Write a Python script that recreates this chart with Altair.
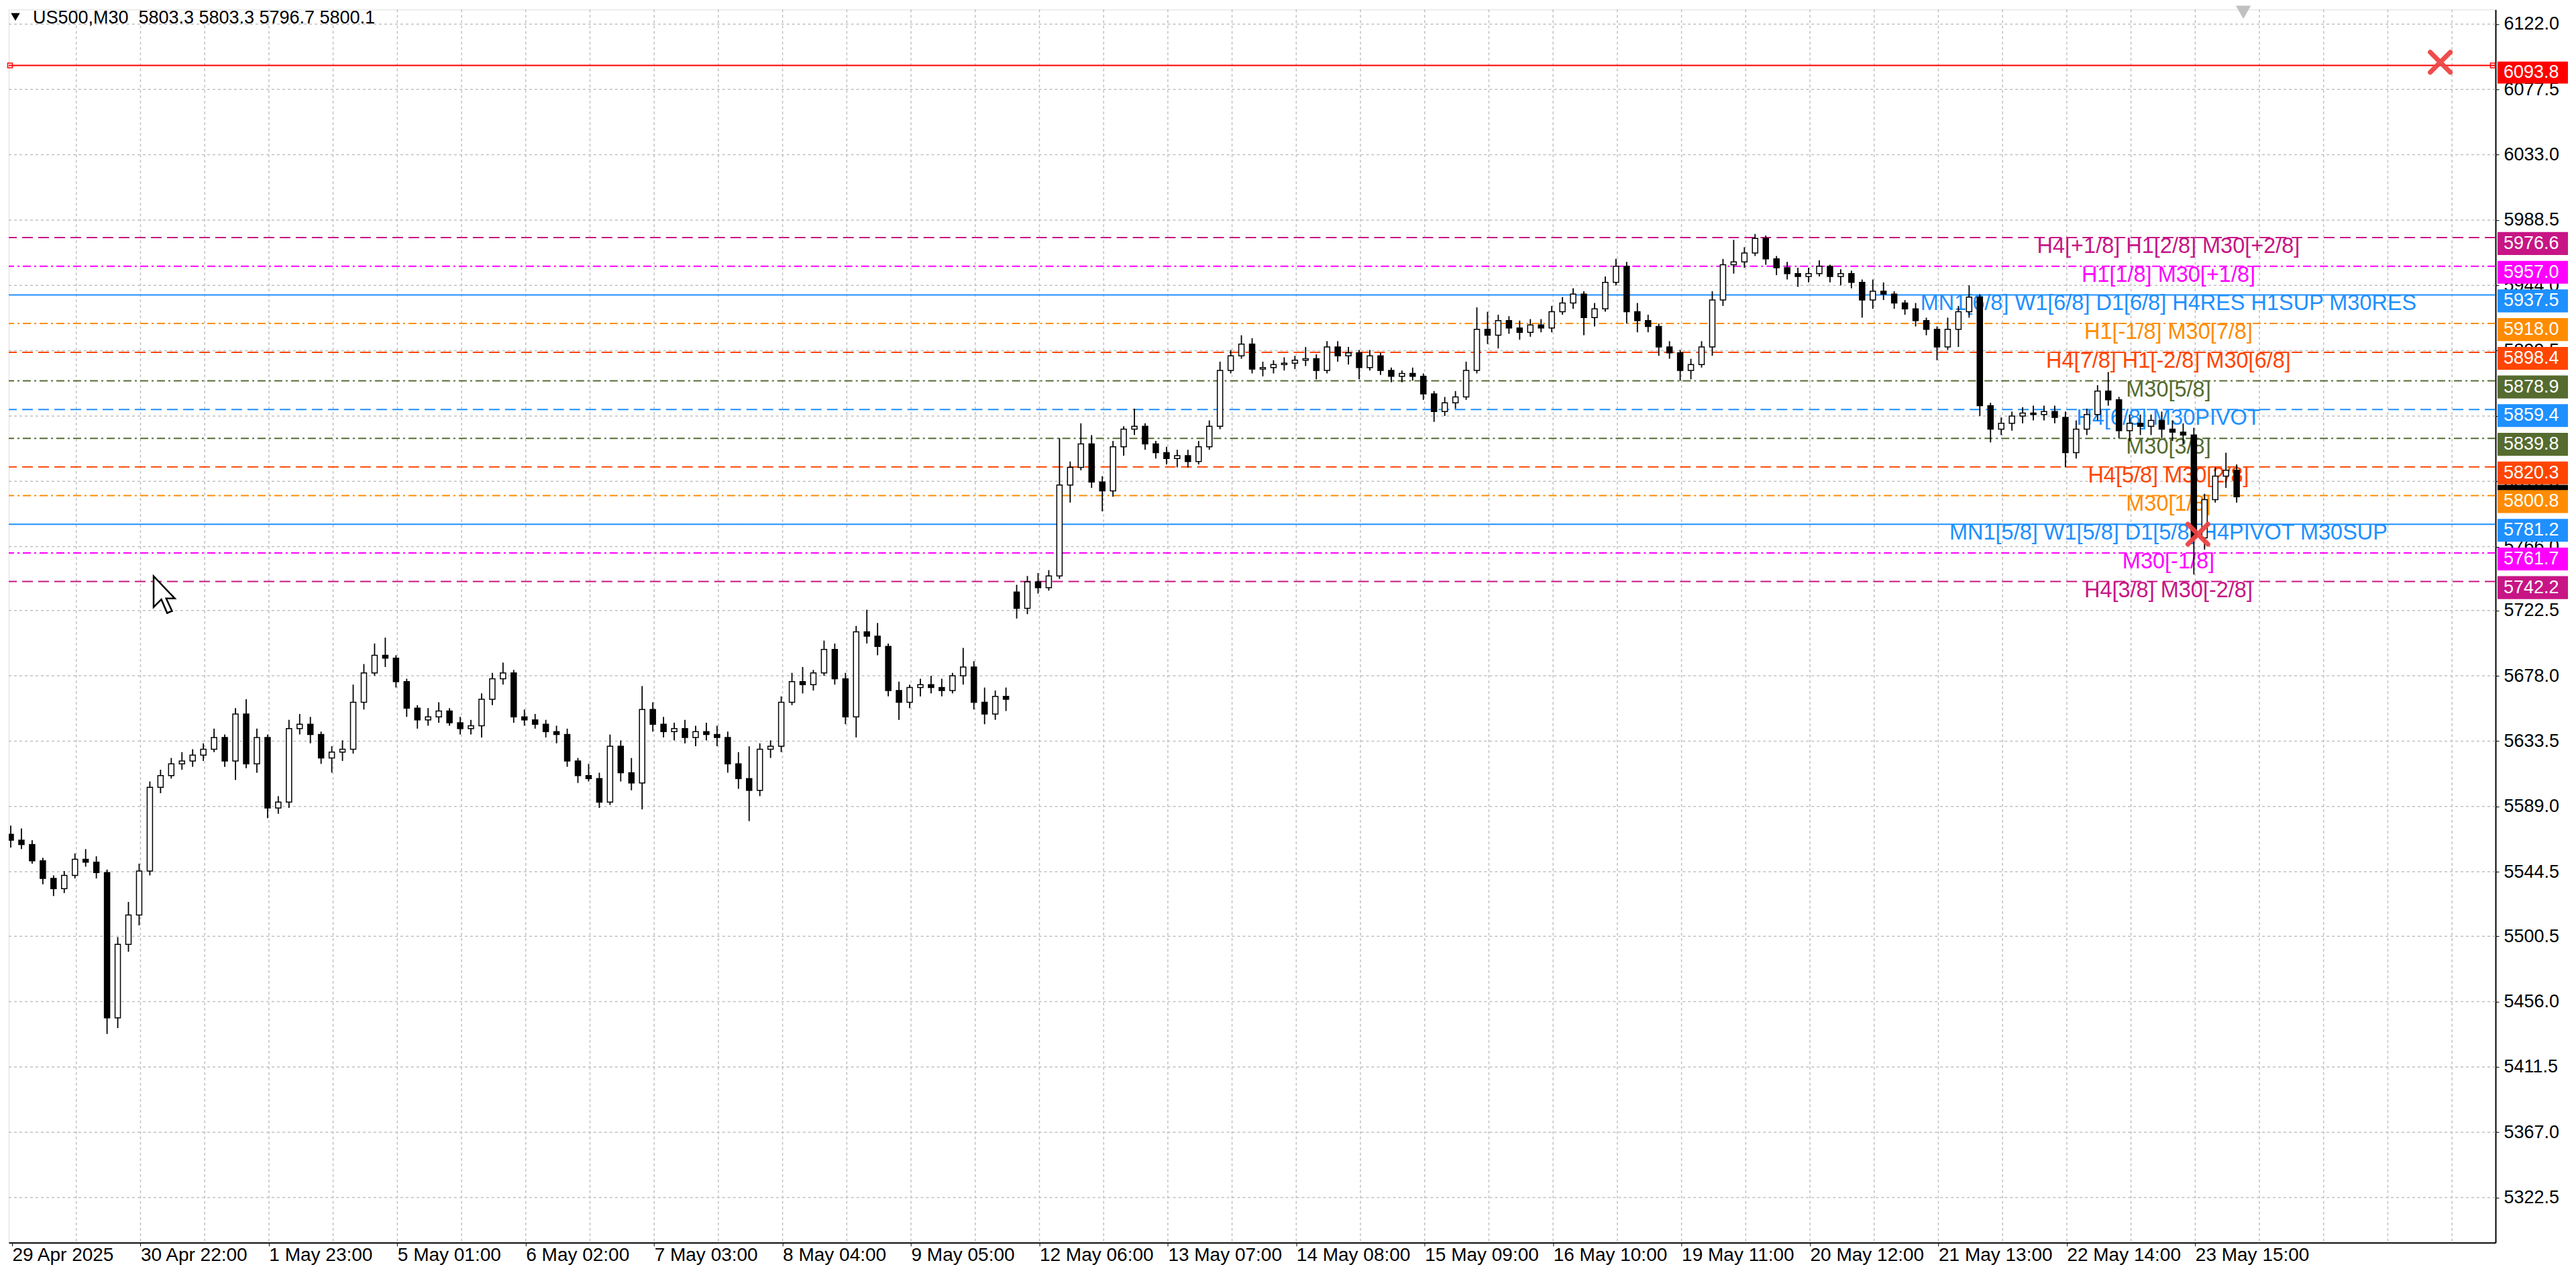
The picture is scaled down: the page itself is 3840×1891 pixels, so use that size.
import altair as alt
import pandas as pd

# ---------------- candle data (4-bar M30 groups) ----------------
O = [5570,5566,5563,5552,5540,5533,5542,5553,5551,5544,5445,5495,5515,5545,5602,5610,5618,5620,5624,5628,
     5636,5620,5652,5618,5636,5588,5592,5642,5645,5638,5622,5626,5628,5660,5680,5692,5690,5674,5656,5648,
     5650,5654,5646,5642,5644,5662,5676,5680,5650,5648,5645,5640,5638,5620,5610,5608,5592,5630,5612,5605,
     5655,5645,5640,5642,5636,5640,5638,5636,5618,5608,5600,5628,5630,5660,5674,5672,5680,5696,5676,5650,
     5708,5705,5698,5668,5660,5670,5672,5670,5668,5678,5684,5660,5652,5664,5735,5724,5742,5738,5746,5808,
     5820,5836,5810,5804,5834,5846,5848,5836,5830,5826,5828,5824,5834,5848,5886,5896,5904,5887,5888,5890,
     5891,5893,5894,5886,5902,5896,5898,5888,5896,5886,5882,5884,5882,5870,5858,5864,5868,5886,5914,5910,
     5920,5915,5912,5917,5915,5926,5932,5938,5922,5928,5946,5957,5926,5920,5916,5902,5898,5886,5890,5902,
     5934,5958,5960,5966,5976,5962,5956,5952,5950,5952,5957,5950,5952,5946,5934,5940,5938,5932,5928,5920,
     5914,5902,5914,5926,5936,5862,5846,5850,5855,5857,5856,5858,5854,5830,5846,5856,5872,5866,5845,5850,
     5848,5852,5846,5844,5842,5772,5798,5814,5818]
H = [5576,5574,5566,5554,5542,5545,5557,5560,5555,5546,5500,5524,5550,5606,5614,5622,5626,5628,5632,5642,
     5638,5656,5662,5642,5638,5596,5648,5652,5650,5640,5630,5634,5672,5686,5700,5704,5692,5676,5658,5656,
     5660,5656,5650,5648,5666,5680,5687,5682,5655,5652,5648,5644,5642,5622,5618,5612,5638,5634,5622,5671,
     5660,5650,5646,5648,5644,5646,5644,5640,5626,5630,5632,5634,5664,5680,5684,5682,5702,5700,5680,5712,
     5723,5714,5700,5674,5672,5676,5678,5676,5680,5697,5688,5670,5668,5670,5740,5746,5748,5750,5840,5824,
     5850,5842,5814,5838,5848,5860,5850,5838,5834,5832,5832,5838,5852,5892,5900,5910,5908,5892,5893,5895,
     5896,5902,5897,5906,5906,5902,5900,5900,5898,5888,5886,5888,5884,5872,5868,5872,5892,5929,5926,5924,
     5923,5920,5921,5921,5930,5936,5942,5940,5932,5950,5962,5960,5932,5924,5918,5906,5900,5894,5906,5940,
     5962,5975,5970,5979,5978,5964,5960,5956,5956,5961,5958,5955,5954,5948,5948,5946,5940,5934,5932,5922,
     5916,5922,5930,5944,5938,5864,5854,5858,5861,5862,5862,5862,5858,5852,5860,5876,5885,5868,5856,5856,
     5856,5858,5852,5850,5847,5802,5820,5830,5822]
L = [5561,5560,5550,5536,5528,5530,5540,5548,5540,5434,5438,5490,5508,5542,5598,5608,5614,5616,5620,5626,
     5616,5607,5615,5612,5581,5584,5588,5638,5632,5618,5612,5620,5625,5655,5678,5684,5670,5650,5642,5644,
     5646,5644,5638,5638,5636,5658,5672,5646,5644,5642,5636,5632,5616,5605,5606,5588,5590,5606,5600,5587,
     5640,5636,5634,5632,5630,5634,5630,5612,5601,5579,5596,5622,5626,5658,5666,5668,5678,5672,5645,5636,
     5700,5692,5664,5648,5656,5664,5666,5664,5666,5672,5655,5645,5648,5654,5717,5720,5734,5736,5744,5796,
     5818,5806,5790,5800,5828,5842,5832,5826,5822,5820,5820,5822,5832,5846,5884,5894,5884,5882,5884,5886,
     5887,5889,5880,5884,5892,5890,5880,5886,5883,5878,5878,5879,5866,5851,5855,5860,5866,5884,5904,5901,
     5911,5907,5909,5912,5912,5924,5928,5910,5916,5926,5944,5918,5912,5912,5896,5894,5879,5880,5888,5896,
     5930,5952,5956,5964,5958,5951,5948,5943,5946,5950,5946,5944,5942,5922,5928,5934,5928,5924,5916,5910,
     5893,5900,5902,5922,5855,5837,5842,5845,5850,5852,5852,5850,5820,5826,5842,5852,5862,5840,5838,5842,
     5842,5840,5838,5836,5747,5764,5796,5806,5796]
C = [5566,5563,5552,5540,5533,5542,5553,5551,5544,5445,5495,5515,5545,5602,5610,5618,5620,5624,5628,5636,
     5620,5652,5618,5636,5588,5592,5642,5645,5638,5622,5626,5628,5660,5680,5692,5690,5674,5656,5648,5650,
     5654,5646,5642,5644,5662,5676,5680,5650,5648,5645,5640,5638,5620,5610,5608,5592,5630,5612,5605,5655,
     5645,5640,5642,5636,5640,5638,5636,5618,5608,5600,5628,5630,5660,5674,5672,5680,5696,5676,5650,5708,
     5705,5698,5668,5660,5670,5672,5670,5668,5678,5684,5660,5652,5664,5662,5724,5742,5738,5746,5808,5820,
     5836,5810,5804,5834,5846,5848,5836,5830,5826,5828,5824,5834,5848,5886,5896,5904,5887,5888,5890,5891,
     5893,5894,5886,5902,5896,5898,5888,5896,5886,5882,5884,5882,5870,5858,5864,5868,5886,5914,5910,5920,
     5915,5912,5917,5915,5926,5932,5938,5922,5928,5946,5957,5926,5920,5916,5902,5898,5886,5890,5902,5934,
     5958,5960,5966,5976,5962,5956,5952,5950,5952,5957,5950,5952,5946,5934,5940,5938,5932,5928,5920,5914,
     5902,5914,5926,5936,5862,5846,5850,5855,5857,5856,5858,5854,5830,5846,5856,5872,5866,5845,5850,5848,
     5852,5846,5844,5842,5772,5798,5814,5818,5800]
BARS_PER_GROUP = 4
FIRST_GROUP_CENTER = -0.5
LAST_BAR = 834

# ---------------- axes ----------------
price_ticks = [6122.0, 6077.5, 6033.0, 5988.5, 5944.0, 5899.5, 5855.0, 5810.5, 5766.0, 5722.5,
               5678.0, 5633.5, 5589.0, 5544.5, 5500.5, 5456.0, 5411.5, 5367.0, 5322.5]
time_tick_bars = [0, 48, 96, 144, 192, 240, 288, 336, 384, 432, 480, 528, 576, 624, 672, 720, 768, 816]
time_labels = ["29 Apr 2025", "30 Apr 22:00", "1 May 23:00", "5 May 01:00", "6 May 02:00", "7 May 03:00",
               "8 May 04:00", "9 May 05:00", "12 May 06:00", "13 May 07:00", "14 May 08:00", "15 May 09:00",
               "16 May 10:00", "19 May 11:00", "20 May 12:00", "21 May 13:00", "22 May 14:00", "23 May 15:00"]
grid_bars = list(range(24, 913, 24))

# ---------------- Murrey levels ----------------
level_price = [5976.6, 5957.0, 5937.5, 5918.0, 5898.4, 5878.9, 5859.4, 5839.8, 5820.3, 5800.8, 5781.2, 5761.7, 5742.2]
level_text = ["H4[+1/8] H1[2/8] M30[+2/8]", "H1[1/8] M30[+1/8]",
              "MN1[6/8] W1[6/8] D1[6/8] H4RES H1SUP M30RES", "H1[-1/8] M30[7/8]",
              "H4[7/8] H1[-2/8] M30[6/8]", "M30[5/8]", "H4[6/8] M30PIVOT", "M30[3/8]",
              "H4[5/8] M30[2/8]", "M30[1/8]", "MN1[5/8] W1[5/8] D1[5/8] H4PIVOT M30SUP",
              "M30[-1/8]", "H4[3/8] M30[-2/8]"]
level_color = ["#C71585", "#FF00FF", "#1E90FF", "#FF8C00", "#FF4500", "#556B2F", "#1E90FF",
               "#556B2F", "#FF4500", "#FF8C00", "#1E90FF", "#FF00FF", "#C71585"]
level_style = ["dash", "dashdot", "solid", "dashdot", "dash", "dashdot", "dash",
               "dashdot", "dash", "dashdot", "solid", "dashdot", "dash"]
label_bar = 806

red_line_price = 6093.8
current_price = 5800.1
x_marks_bar = [907.6, 817.0]
x_marks_price = [6096.0, 5774.5]
header = "US500,M30\u00a0 5803.3 5803.3 5796.7 5800.1"

# ---------------- geometry ----------------
W, Hgt = 3708, 1838
YDOM = [5291.8, 6131.9]
XDOM = [0, 927]
FONT = "Liberation Sans"
ARROW = "M-0.58,-1L-0.58,0.68L-0.16,0.26L0.155,1L0.42,0.89L0.1,0.21L0.57,0.21Z"

candles = pd.DataFrame({
    "x": [FIRST_GROUP_CENTER + BARS_PER_GROUP * i for i in range(len(O))],
    "o": O, "h": H, "l": L, "c": C,
})
levels = pd.DataFrame({"p": level_price, "t": level_text, "col": level_color, "st": level_style})
levels["top"] = levels["p"] + 3.7
levels["bot"] = levels["p"] - 11.9
levels["mid"] = levels["p"] - 4.1
levels["lab"] = levels["p"].map(lambda v: f"{v:.1f}")

xs = alt.Scale(domain=XDOM, nice=False, zero=False)
ys = alt.Scale(domain=YDOM, nice=False, zero=False)

label_expr = "[" + ",".join("'" + s + "'" for s in time_labels) + "][round(datum.value/48)]"
xaxis = alt.Axis(values=time_tick_bars, labelExpr=label_expr, title=None, grid=False, orient="bottom",
                 labelAlign="left", labelBaseline="top", labelFontSize=28, labelFont=FONT, labelColor="black",
                 tickColor="black", tickSize=5, labelPadding=0, domainColor="black", domainWidth=2,
                 labelFlush=False, labelOverlap=False, labelBound=False)
yaxis = alt.Axis(values=price_ticks, format=".1f", title=None, grid=False, orient="right",
                 labelAlign="left", labelBaseline="middle", labelFontSize=27, labelFont=FONT,
                 labelColor="black", tickColor="black", tickSize=5, labelPadding=7,
                 domainColor="black", domainWidth=2, labelOverlap=False, labelFlush=False)

hgrid = alt.Chart(pd.DataFrame({"v": price_ticks})).mark_rule(
    color="#C0C0C0", strokeDash=[4, 4], strokeWidth=1.5).encode(y=alt.Y("v:Q", scale=ys, axis=yaxis))
vgrid = alt.Chart(pd.DataFrame({"b": grid_bars})).mark_rule(
    color="#C0C0C0", strokeDash=[4, 4], strokeWidth=1.5).encode(x=alt.X("b:Q", scale=xs, axis=xaxis))

lev_lines = alt.Chart(levels).mark_rule().encode(
    y=alt.Y("p:Q", scale=ys, axis=yaxis),
    color=alt.Color("col:N", scale=None),
    strokeDash=alt.StrokeDash("st:N", scale=alt.Scale(domain=["dash", "dashdot", "solid"],
                                                      range=[[16, 8], [12, 5, 3, 5], [1, 0]]), legend=None),
    strokeWidth=alt.StrokeWidth("st:N", scale=alt.Scale(domain=["dash", "dashdot", "solid"],
                                                        range=[2, 2, 4]), legend=None),
)
lev_text = alt.Chart(levels).mark_text(align="center", baseline="top", dy=-3, fontSize=32.5, font=FONT).encode(
    x=alt.datum(label_bar, scale=xs),
    y=alt.Y("p:Q", scale=ys, axis=yaxis),
    text="t:N",
    color=alt.Color("col:N", scale=None),
)

red_df = pd.DataFrame({"p": [red_line_price], "top": [red_line_price + 2.7], "bot": [red_line_price - 12.3],
                       "mid": [red_line_price - 4.8], "lab": [f"{red_line_price:.1f}"]})
red_line = alt.Chart(red_df).mark_rule(color="#FF0000", strokeWidth=2).encode(y=alt.Y("p:Q", scale=ys, axis=yaxis))
red_end_l = alt.Chart(red_df).mark_point(
    shape="square", filled=False, size=50, color="#FF0000", strokeWidth=1.5, opacity=1).encode(
    x=alt.value(2), y=alt.Y("p:Q", scale=ys, axis=yaxis))
red_end_r = alt.Chart(red_df).mark_point(
    shape="square", filled=False, size=50, color="#FF0000", strokeWidth=1.5, opacity=1).encode(
    x=alt.value(W - 4), y=alt.Y("p:Q", scale=ys, axis=yaxis))

cur_df = pd.DataFrame({"top": [current_price + 8], "bot": [current_price - 8]})
cur_box = alt.Chart(cur_df).mark_rect(color="black").encode(
    x=alt.value(W + 3), x2=alt.value(W + 108), y=alt.Y("top:Q", scale=ys, axis=yaxis), y2="bot:Q")

boxes = alt.Chart(levels).mark_rect().encode(
    x=alt.value(W + 3), x2=alt.value(W + 108),
    y=alt.Y("top:Q", scale=ys, axis=yaxis), y2="bot:Q",
    color=alt.Color("col:N", scale=None))
box_text = alt.Chart(levels).mark_text(align="left", baseline="middle", fontSize=27, font=FONT,
                                      color="white").encode(
    x=alt.value(W + 12), y=alt.Y("mid:Q", scale=ys, axis=yaxis), text="lab:N")
red_box = alt.Chart(red_df).mark_rect(color="#FF0000").encode(
    x=alt.value(W + 3), x2=alt.value(W + 108), y=alt.Y("top:Q", scale=ys, axis=yaxis), y2="bot:Q")
red_text = alt.Chart(red_df).mark_text(align="left", baseline="middle", fontSize=27, font=FONT,
                                       color="white").encode(
    x=alt.value(W + 12), y=alt.Y("mid:Q", scale=ys, axis=yaxis), text="lab:N")

wicks = alt.Chart(candles).mark_rule(color="black", strokeWidth=1.8, clip=True).encode(
    x=alt.X("x:Q", scale=xs, axis=xaxis), y=alt.Y("l:Q", scale=ys, axis=yaxis), y2="h:Q")
bodies = alt.Chart(candles).mark_bar(width=8, stroke="black", strokeWidth=1.5, clip=True).encode(
    x=alt.X("x:Q", scale=xs, axis=xaxis), y=alt.Y("o:Q", scale=ys, axis=yaxis), y2="c:Q",
    fill=alt.condition("datum.c >= datum.o", alt.value("white"), alt.value("black")))

xm = alt.Chart(pd.DataFrame({"b": x_marks_bar, "p": x_marks_price})).mark_point(
    shape="M-1,-1L1,1M1,-1L-1,1", filled=False, size=900, strokeWidth=7, strokeCap="round",
    color="#EE4444", opacity=0.95).encode(
    x=alt.X("b:Q", scale=xs, axis=xaxis), y=alt.Y("p:Q", scale=ys, axis=yaxis))

shift_mark = alt.Chart(pd.DataFrame({"b": [LAST_BAR]})).mark_point(
    shape="triangle-down", filled=True, color="#C0C0C0", size=500, opacity=1).encode(
    x=alt.X("b:Q", scale=xs, axis=xaxis), y=alt.value(4))

cursor = alt.Chart(pd.DataFrame({"k": ["cursor"]})).mark_point(
    shape=ARROW, filled=True, fill="white", stroke="black", strokeWidth=2.5, size=3025, opacity=1).encode(
    x=alt.value(232), y=alt.value(872))

head_tri = alt.Chart(pd.DataFrame({"t": ["hdr"]})).mark_point(
    shape="triangle-down", filled=True, color="black", size=180, opacity=1).encode(
    x=alt.value(10), y=alt.value(11))
head_text = alt.Chart(pd.DataFrame({"t": [header]})).mark_text(
    align="left", baseline="middle", fontSize=27, font=FONT, color="black").encode(
    x=alt.value(36), y=alt.value(13), text="t:N")

chart = alt.layer(
    hgrid, vgrid, lev_lines, red_line, red_end_l, red_end_r, lev_text, wicks, bodies, xm,
    cur_box, boxes, box_text, red_box, red_text, shift_mark, cursor, head_tri, head_text
).properties(
    width=W, height=Hgt, padding={"left": 0, "top": 0, "right": 4, "bottom": 0}, background="white"
).configure_view(stroke="black", strokeWidth=2).configure(font=FONT)

chart.save("out.html", embed_options={"renderer": "svg", "actions": False})
